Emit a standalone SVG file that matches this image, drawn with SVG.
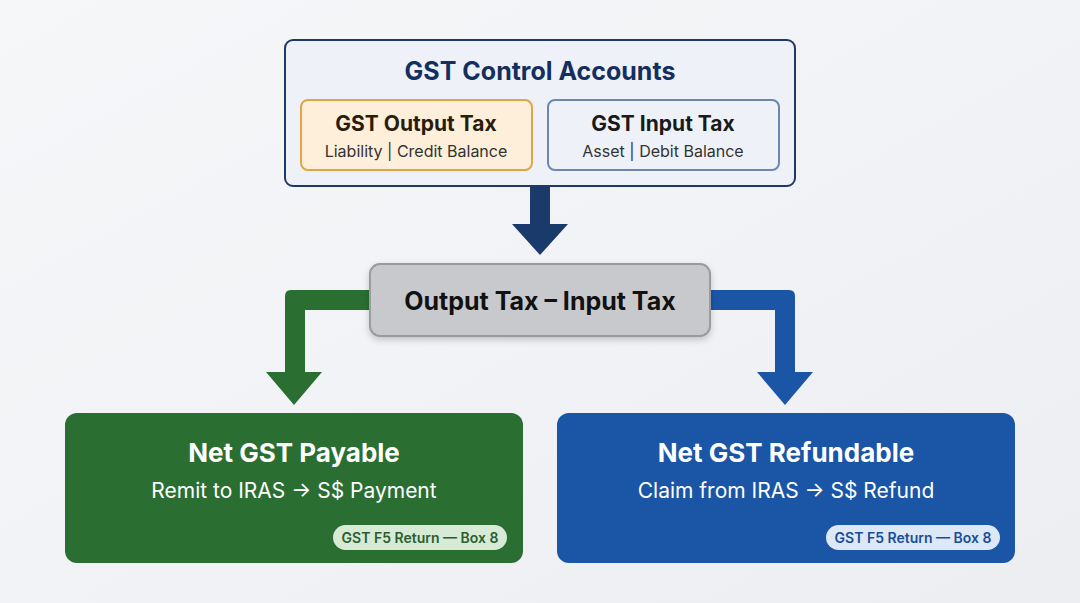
<svg xmlns="http://www.w3.org/2000/svg" width="1080" height="603" viewBox="0 0 1080 603">
<defs>
<linearGradient id="bg" x1="0" y1="0" x2="1" y2="1"><stop offset="0" stop-color="#f6f7f9"/><stop offset="1" stop-color="#eceef2"/></linearGradient>
<filter id="sh" x="-10%" y="-10%" width="120%" height="130%"><feDropShadow dx="0" dy="3" stdDeviation="3" flood-opacity="0.2"/></filter>
</defs>
<style>
text{font-family:Inter,"Noto Sans",sans-serif;text-anchor:middle}
.b{font-weight:700}
.w{fill:#fff}
</style>
<rect width="1080" height="603" fill="url(#bg)"/>
<g id="connectors">
<path d="M530 186H550V224H568L540 255L512 224H530Z" fill="#1a3a6b"/>
<path d="M370 290V310H305V372H322L294 405L266 372H285V296Q285 290 291 290Z" fill="#2a6e32"/>
<path d="M710 290V310H775V372H813L785 405L757 372H795V296Q795 290 789 290Z" fill="#1a55a6" transform="translate(0 0)"/>
</g>
<g id="control">
<rect x="285" y="40" width="510" height="146" rx="8" fill="#eef2f8" stroke="#1e3a64" stroke-width="2"/>
<text x="540" y="80" class="b" font-size="25" fill="#142f5e">GST Control Accounts</text>
</g>
<g id="output">
<rect x="301" y="100" width="231" height="70" rx="7" fill="#fdefd9" stroke="#e0a545" stroke-width="2"/>
<text x="416" y="131" class="b" font-size="21" fill="#2a1c0c">GST Output Tax</text>
<text x="416" y="157" font-size="16" fill="#333">Liability | Credit Balance</text>
</g>
<g id="input">
<rect x="548" y="100" width="231" height="70" rx="7" fill="#eef2f8" stroke="#6e85ad" stroke-width="2"/>
<text x="663" y="131" class="b" font-size="21" fill="#1a1a1a">GST Input Tax</text>
<text x="663" y="157" font-size="16" fill="#333">Asset | Debit Balance</text>
</g>
<g id="calc">
<rect x="370" y="264" width="340" height="72" rx="10" fill="#c8c9cc" stroke="#9a9b9e" stroke-width="2" filter="url(#sh)"/>
<text x="540" y="310" class="b" font-size="25" fill="#111">Output Tax – Input Tax</text>
</g>
<g id="payable">
<rect x="65" y="413" width="458" height="150" rx="12" fill="#2a6e32"/>
<text x="294" y="462" class="b w" font-size="26">Net GST Payable</text>
<text x="294" y="498" class="w" font-size="21">Remit to IRAS → S$ Payment</text>
<rect x="333" y="525" width="174" height="25" rx="12.5" fill="#d6ead6"/>
<text x="420" y="543" font-size="14" font-weight="600" fill="#2a5e2e">GST F5 Return — Box 8</text>
</g>
<g id="refundable">
<rect x="557" y="413" width="458" height="150" rx="12" fill="#1a55a6"/>
<text x="786" y="462" class="b w" font-size="26">Net GST Refundable</text>
<text x="786" y="498" class="w" font-size="21">Claim from IRAS → S$ Refund</text>
<rect x="826" y="525" width="174" height="25" rx="12.5" fill="#dde8f6"/>
<text x="913" y="543" font-size="14" font-weight="600" fill="#1a4c96">GST F5 Return — Box 8</text>
</g>
</svg>
